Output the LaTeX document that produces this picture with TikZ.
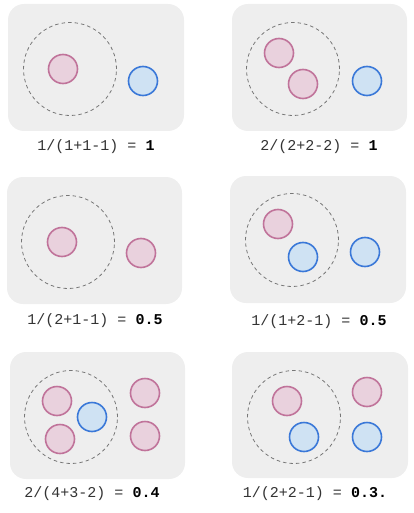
\documentclass[tikz,border=0pt]{standalone}
\usepackage{fontspec}
\setmonofont{Liberation Mono}
\definecolor{boxgray}{HTML}{EEEEEE}
\definecolor{pinkfill}{HTML}{E9D1DD}
\definecolor{pinkline}{HTML}{C0739A}
\definecolor{bluefill}{HTML}{CFE2F3}
\definecolor{blueline}{HTML}{3A78D8}
\definecolor{dashgray}{HTML}{777777}
\definecolor{txtgray}{HTML}{333333}
\begin{document}
\begin{tikzpicture}[x=1pt,y=-1pt,
  panel/.style={fill=boxgray,draw=none,rounded corners=16pt},
  pinkc/.style={circle,draw=pinkline,fill=pinkfill,line width=1.6pt,minimum size=29pt,inner sep=0pt},
  bluec/.style={circle,draw=blueline,fill=bluefill,line width=1.6pt,minimum size=29pt,inner sep=0pt},
  groupc/.style={circle,draw=dashgray,dash pattern=on 3.5pt off 3pt,line width=0.8pt,minimum size=93pt,inner sep=0pt},
  lbl/.style={font=\ttfamily\fontsize{15}{17}\selectfont,text=txtgray,anchor=base,inner sep=0pt}]
\useasboundingbox (0,0) rectangle (414,513);
% panel 1
\path[panel] (8,4) rectangle (184,131);
\node[groupc] (g1) at (70,69) {};
\node[pinkc] (a1) at (63,69) {};
\node[bluec] (b1) at (143,81) {};
\node[lbl] (t1) at (96,150) {1/(1+1-1) = \textbf{\color{black}1}};
% panel 2
\path[panel] (232,4) rectangle (407,131);
\node[groupc] (g2) at (293,69) {};
\node[pinkc] (a2) at (279,53) {};
\node[pinkc] (a3) at (303,84) {};
\node[bluec] (b2) at (367,81) {};
\node[lbl] (t2) at (319,150) {2/(2+2-2) = \textbf{\color{black}1}};
% panel 3
\path[panel] (7,177) rectangle (182,304);
\node[groupc] (g3) at (68,242) {};
\node[pinkc] (a4) at (62,242) {};
\node[pinkc] (a5) at (141,253) {};
\node[lbl] (t3) at (95,324) {1/(2+1-1) = \textbf{\color{black}0.5}};
% panel 4
\path[panel] (230,176) rectangle (406,303);
\node[groupc] (g4) at (292,240) {};
\node[pinkc] (a6) at (278,224) {};
\node[bluec] (b3) at (303,257) {};
\node[bluec] (b4) at (365,252) {};
\node[lbl] (t4) at (319,325) {1/(1+2-1) = \textbf{\color{black}0.5}};
% panel 5
\path[panel] (10,352) rectangle (185,479);
\node[groupc] (g5) at (71,417) {};
\node[pinkc] (a7) at (57,401) {};
\node[pinkc] (a8) at (60,439) {};
\node[bluec] (b5) at (92,417) {};
\node[pinkc] (a9) at (145,393) {};
\node[pinkc] (a10) at (145,436) {};
\node[lbl] (t5) at (92,497) {2/(4+3-2) = \textbf{\color{black}0.4}};
% panel 6
\path[panel] (232,352) rectangle (408,478);
\node[groupc] (g6) at (294,417) {};
\node[pinkc] (a11) at (287,401) {};
\node[bluec] (b6) at (304,437) {};
\node[pinkc] (a12) at (367,392) {};
\node[bluec] (b7) at (367,437) {};
\node[lbl] (t6) at (315,497) {1/(2+2-1) = \textbf{\color{black}0.3.}};
\end{tikzpicture}
\end{document}
